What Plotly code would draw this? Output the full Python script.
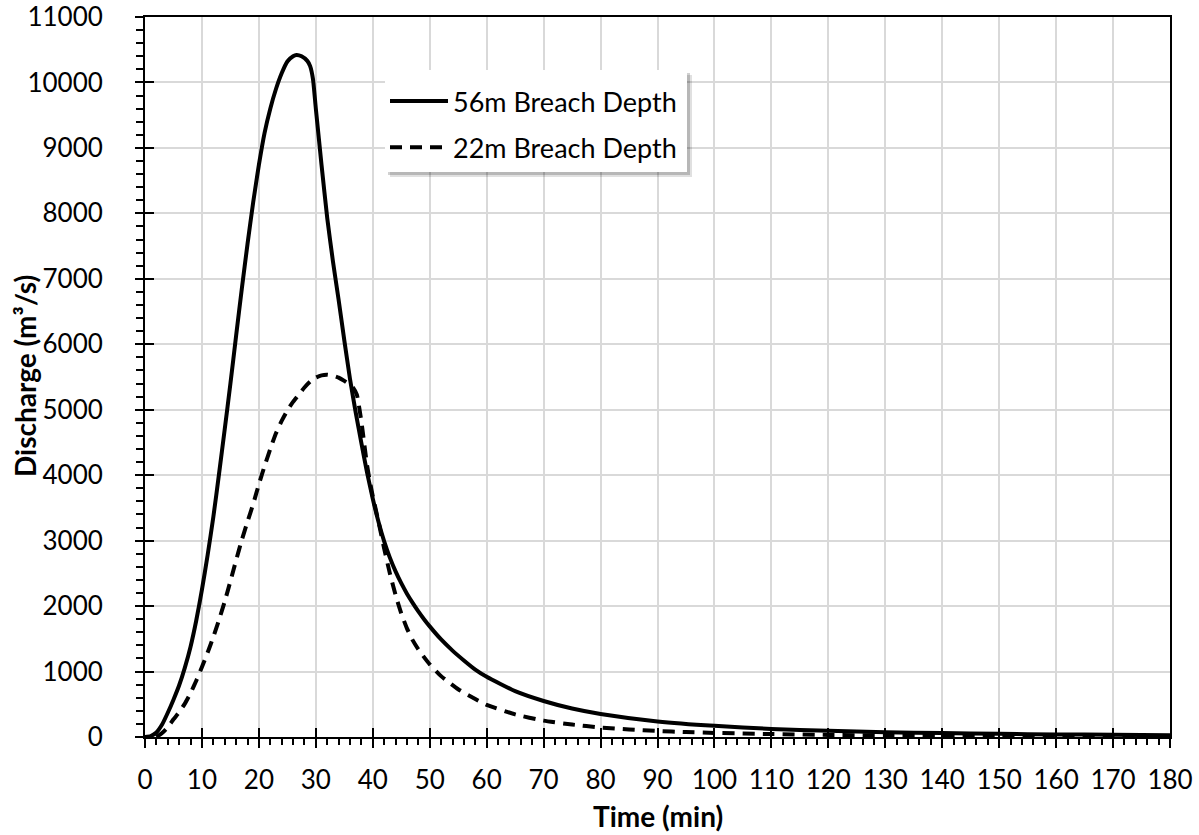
import plotly.graph_objects as go

# ---------------- data ----------------
t_56 = [0, 1, 2, 3, 4, 5, 6, 7, 8, 9, 10, 11, 12, 13, 14, 15, 16, 17, 18, 19, 20,
        21, 22, 23, 24, 25, 26, 26.6, 27.5, 28.5, 29, 29.5, 30, 31, 32, 33, 34,
        35, 36, 37, 38, 39, 40, 41, 42, 43, 44, 45, 46, 47, 48, 49, 50, 52, 54,
        56, 58, 60, 65, 70, 75, 80, 90, 100, 110, 120, 130, 140, 150, 160, 170, 180]
q_56 = [0, 15, 70, 190, 370, 570, 790, 1060, 1380, 1780, 2250, 2780, 3360, 4020,
        4700, 5400, 6130, 6850, 7530, 8170, 8740, 9230, 9600, 9900, 10140, 10320,
        10400, 10420, 10400, 10330, 10250, 10050, 9600, 8740, 7930, 7270, 6680,
        6060, 5470, 4960, 4490, 4040, 3640, 3290, 2990, 2740, 2530, 2350, 2190,
        2050, 1920, 1800, 1690, 1490, 1320, 1170, 1030, 920, 700, 550, 435, 352,
        238, 170, 124, 94, 74, 60, 48, 40, 33, 28]

t_22 = [2, 3, 4, 5, 6, 7, 8, 9, 10, 11, 12, 13, 14, 15, 16, 17, 18, 19, 20, 21,
        22, 23, 24, 25, 26, 27, 28, 29, 30, 31, 32, 33, 34, 35, 36, 36.6, 37.2,
        38, 38.5, 39, 39.5, 40, 41, 42, 43, 44, 45, 46, 47, 48, 49, 50, 52, 55,
        58, 60, 65, 70, 75, 80, 85, 90, 95, 100, 110, 120, 130, 140, 150, 160,
        170, 180]
q_22 = [0, 60, 150, 270, 380, 510, 670, 860, 1070, 1290, 1530, 1790, 2070, 2380,
        2700, 3010, 3290, 3560, 3860, 4140, 4400, 4640, 4830, 4990, 5120, 5230,
        5340, 5430, 5490, 5525, 5535, 5520, 5490, 5440, 5380, 5330, 5230, 4820,
        4480, 4150, 3900, 3680, 3290, 2880, 2500, 2170, 1890, 1660, 1480, 1340,
        1220, 1110, 930, 730, 580, 490, 345, 250, 190, 145, 115, 92, 75, 63, 45,
        32, 24, 18, 14, 11, 9, 7]

series_names = ["56m Breach Depth", "22m Breach Depth"]

x_ticks = list(range(0, 181, 10))
y_ticks = list(range(0, 11001, 1000))

FONT = "Lato, Carlito, Calibri, sans-serif"

fig = go.Figure()
fig.add_trace(go.Scatter(x=t_56, y=q_56, mode="lines", name=series_names[0],
                         line=dict(color="black", width=4, shape="spline", smoothing=0.5),
                         legendgroup="a"))
fig.add_trace(go.Scatter(x=t_22, y=q_22, mode="lines", name=series_names[1],
                         line=dict(color="black", width=4, dash="12px,8px",
                                   shape="spline", smoothing=0.5),
                         legendgroup="b"))

axis_common = dict(showline=True, linecolor="black", linewidth=2,
                   tickcolor="black", tickwidth=2,
                   tickfont=dict(family=FONT, size=26, color="black"),
                   zeroline=False, tickformat="d", automargin=False,
                   ticklabeloverflow="allow")

TOP, BOTTOM_PX = 17, 737
PLOT_H = BOTTOM_PX - TOP


def px_x(p):
    return (p - 145) / 1025.0


def px_y(p):
    return (BOTTOM_PX - p) / float(PLOT_H)


box = (385, 70, 687, 172)

fig.update_layout(
    width=1199, height=835,
    margin=dict(l=145, r=29, t=TOP, b=835 - BOTTOM_PX, autoexpand=False),
    paper_bgcolor="white", plot_bgcolor="white",
    showlegend=True,
    legend=dict(x=px_x(385), y=px_y(77), xanchor="left", yanchor="top",
                bgcolor="rgba(0,0,0,0)", borderwidth=0,
                font=dict(family=FONT, size=27, color="black"),
                tracegroupgap=8, itemwidth=58),
    xaxis=dict(range=[0, 180], tickvals=x_ticks, ticks="outside", ticklen=9,
               showgrid=True, gridcolor="#d9d9d9", gridwidth=1.5,
               mirror=True, ticklabelstandoff=10,
               minor=dict(dtick=2, ticks="outside", ticklen=6, tickcolor="black",
                          tickwidth=1.5, showgrid=False),
               **axis_common),
    yaxis=dict(range=[0, 11000], tickvals=y_ticks, ticks="outside", ticklen=8,
               showgrid=True, gridcolor="#d9d9d9", gridwidth=1.5,
               mirror=True, ticklabelstandoff=27,
               minor=dict(dtick=200, ticks="outside", ticklen=7, tickcolor="black",
                          tickwidth=1.5, showgrid=False),
               **axis_common),
    xaxis2=dict(overlaying="x", matches="x", anchor="y", side="bottom",
                range=[0, 180], tickvals=x_ticks, ticks="inside", ticklen=9,
                tickcolor="black", tickwidth=2, showticklabels=False,
                showgrid=False, showline=False, zeroline=False, automargin=False),
    yaxis2=dict(overlaying="y", matches="y", anchor="x", side="left",
                range=[0, 11000], tickvals=y_ticks, ticks="inside", ticklen=9,
                tickcolor="black", tickwidth=2, showticklabels=False,
                showgrid=False, showline=False, zeroline=False, automargin=False),
    annotations=[
        dict(text="<b>Discharge (m³/s)</b>", xref="paper", yref="paper",
             x=px_x(25), y=px_y(376), textangle=-90, showarrow=False,
             font=dict(family=FONT, size=28, color="black"),
             xanchor="center", yanchor="middle"),
        dict(text="<b>Time (min)</b>", xref="paper", yref="paper",
             x=0.5, y=px_y(816), showarrow=False,
             font=dict(family=FONT, size=28, color="black"),
             xanchor="center", yanchor="middle"),
    ],
    shapes=[
        dict(type="rect", xref="paper", yref="paper",
             x0=px_x(box[0] + 5), x1=px_x(box[2] + 5),
             y0=px_y(box[3] + 5), y1=px_y(box[1] + 5),
             fillcolor="rgba(0,0,0,0.12)", line=dict(width=0), layer="above"),
        dict(type="rect", xref="paper", yref="paper",
             x0=px_x(box[0] + 3), x1=px_x(box[2] + 3),
             y0=px_y(box[3] + 3), y1=px_y(box[1] + 3),
             fillcolor="rgba(0,0,0,0.18)", line=dict(width=0), layer="above"),
        dict(type="rect", xref="paper", yref="paper",
             x0=px_x(box[0]), x1=px_x(box[2]),
             y0=px_y(box[3]), y1=px_y(box[1]),
             fillcolor="white", line=dict(width=0), layer="above"),
    ],
)

# invisible trace that activates the overlay axes carrying the inner half of the major ticks
fig.add_trace(go.Scatter(x=[None], y=[None], xaxis="x2", yaxis="y2",
                         showlegend=False, hoverinfo="skip"))

fig.write_html("out.html")
